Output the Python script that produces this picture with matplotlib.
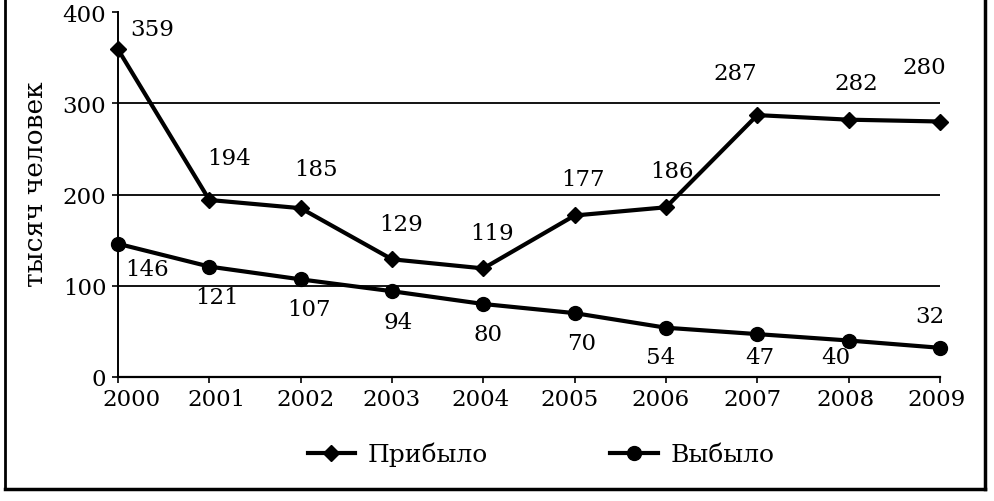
import matplotlib.pyplot as plt
from matplotlib.lines import Line2D
from matplotlib.transforms import ScaledTranslation

# data
years = ['2000', '2001', '2002', '2003', '2004', '2005', '2006', '2007', '2008', '2009']
arrived = [359, 194, 185, 129, 119, 177, 186, 287, 282, 280]
departed = [146, 121, 107, 94, 80, 70, 54, 47, 40, 32]

# label offsets in pixels (dx, dy) relative to the point
arr_off = [(34, 20), (20, 42), (15, 39), (9, 35), (9, 35), (8, 36), (6, 36), (-22, 42), (8, 37), (-16, 55)]
dep_off = [(29, -25), (8, -30), (8, -30), (6, -31), (5, -30), (7, -30), (-5, -29), (2, -23), (-13, -17), (-10, 32)]
# small horizontal shifts of the year labels (pixels), as in the scan
year_shift = [14, 7, 5, 0, -3, -5, -5, -5, -3, -3]

plt.rcParams['font.family'] = ['DejaVu Serif']
fs = 16.5

fig = plt.figure(figsize=(9.95, 5.02), dpi=100)
ax = fig.add_axes([118 / 995, 124 / 502, 822 / 995, 365 / 502])

x = list(range(len(years)))
ax.plot(x, arrived, color='black', lw=3, marker='D', ms=8.5, clip_on=False, zorder=4, label='Прибыло')
ax.plot(x, departed, color='black', lw=3, marker='o', ms=10, clip_on=False, zorder=4, label='Выбыло')

for i, v in enumerate(arrived):
    ax.annotate(str(v), (i, v), xytext=arr_off[i], textcoords='offset pixels',
                ha='center', va='center', fontsize=fs)
for i, v in enumerate(departed):
    ax.annotate(str(v), (i, v), xytext=dep_off[i], textcoords='offset pixels',
                ha='center', va='center', fontsize=fs)

ax.set_xlim(0, 9)
ax.set_ylim(0, 400)
ax.set_yticks([0, 100, 200, 300, 400])
ax.set_xticks(x)
ax.set_xticklabels(years)
for yv in [100, 200, 300]:
    ax.axhline(yv, color='black', lw=1.3, zorder=1)

for s in ['top', 'right']:
    ax.spines[s].set_visible(False)
ax.spines['left'].set_linewidth(1.4)
ax.spines['bottom'].set_linewidth(1.6)
ax.tick_params(axis='y', length=4.5, width=1.2, pad=4, labelsize=fs)
ax.tick_params(axis='x', length=4, width=1.2, pad=4, labelsize=fs)

for lbl, dx in zip(ax.get_xticklabels(), year_shift):
    lbl.set_transform(lbl.get_transform() + ScaledTranslation(dx / 100, 0, fig.dpi_scale_trans))

fig.text(36 / 995, 1 - 184 / 502, 'тысяч человек', rotation=90,
         ha='center', va='center', fontsize=19)

fig.legend(loc='center', bbox_to_anchor=(541 / 995, 1 - 455 / 502), ncol=2,
           frameon=False, fontsize=18, handlelength=1.9, handletextpad=0.5,
           columnspacing=4.9)

# outer frame of the figure
fig.add_artist(Line2D([5 / 995, 5 / 995], [1.0, 1 - 490 / 502], color='black', lw=2, transform=fig.transFigure))
fig.add_artist(Line2D([5 / 995, 985 / 995], [1 - 490 / 502, 1 - 490 / 502], color='black', lw=2.5, transform=fig.transFigure))
fig.add_artist(Line2D([985 / 995, 985 / 995], [1.0, 1 - 490 / 502], color='black', lw=2.5, transform=fig.transFigure))

fig.savefig('out.png', dpi=100)
